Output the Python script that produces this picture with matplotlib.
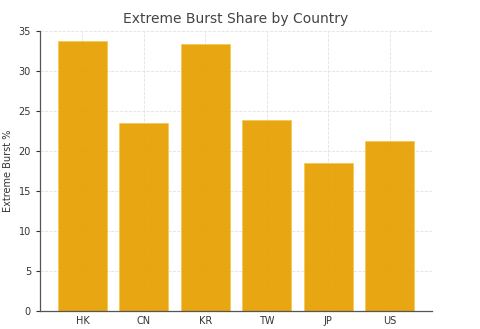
import matplotlib
matplotlib.use("Agg")
import matplotlib.pyplot as plt

countries = ["HK", "CN", "KR", "TW", "JP", "US"]
extreme_burst = [33.75, 23.5, 33.35, 23.9, 18.45, 21.2]
yticks = [0, 5, 10, 15, 20, 25, 30, 35]

fig = plt.figure(figsize=(4.81, 3.29), dpi=100)
ax = fig.add_axes([40/481, 1 - 311/329, 392/481, 280/329])
ax.bar(countries, extreme_burst, width=0.8, color="#E69F00", edgecolor="#F5C850",
       linewidth=0.6, alpha=0.93, zorder=2)
ax.set_ylim(0, 35)
ax.set_yticks(yticks)
ax.grid(True, color="#E2E2E2", linestyle="--", linewidth=0.6, zorder=0)
ax.set_axisbelow(True)
for s in ["top", "right"]:
    ax.spines[s].set_visible(False)
for s in ["left", "bottom"]:
    ax.spines[s].set_color("#555555")
    ax.spines[s].set_linewidth(0.9)
ax.tick_params(axis="y", labelsize=7, colors="#333333", length=3, width=0.8)
ax.tick_params(axis="x", labelsize=7, colors="#333333", length=0)
ax.set_ylabel("Extreme Burst %", fontsize=7, color="#333333")
ax.set_title("Extreme Burst Share by Country", fontsize=10, color="#444444", pad=6)
fig.savefig("out.png", dpi=100)
